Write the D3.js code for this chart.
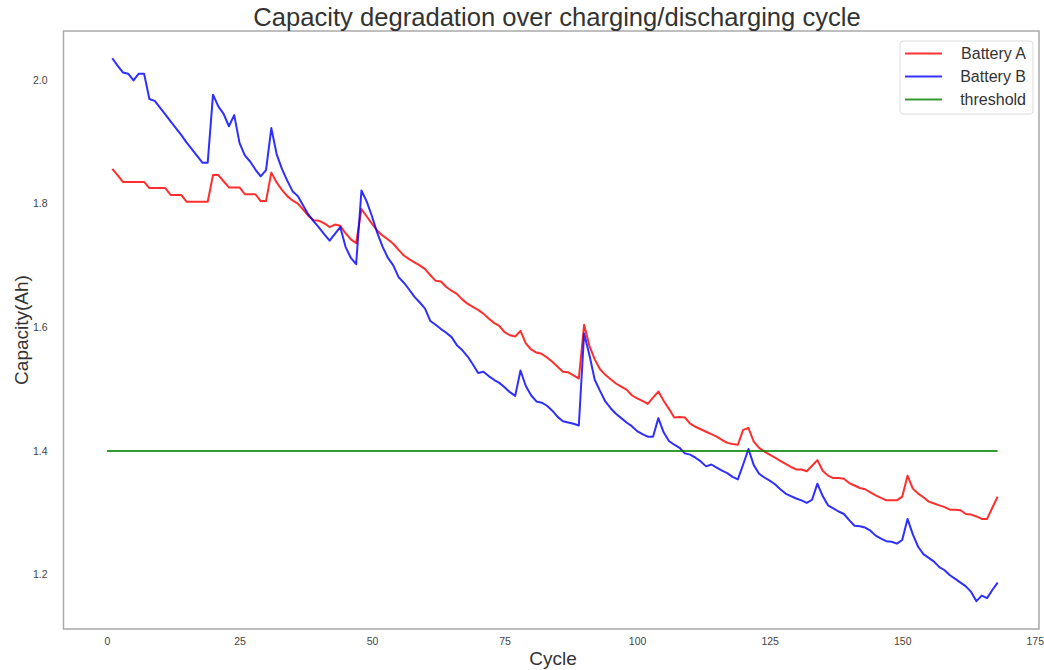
<!DOCTYPE html>
<html>
<head>
<meta charset="utf-8">
<script src="https://cdn.jsdelivr.net/npm/d3@7"></script>
<style>
  html, body { margin: 0; padding: 0; background: #fff; }
  svg { display: block; font-family: "Liberation Sans", Arial, sans-serif; }
</style>
</head>
<body>
<svg id="chart" width="1044" height="670"></svg>
<script>
// ---- data ----
const cycles = d3.range(1, 169);
const batteryA = [
  1.856, 1.846, 1.835, 1.835, 1.835, 1.835, 1.835, 1.825, 1.825, 1.825,
  1.825, 1.814, 1.814, 1.814, 1.803, 1.803, 1.803, 1.803, 1.803, 1.846,
  1.846, 1.836, 1.826, 1.826, 1.826, 1.815, 1.815, 1.815, 1.804, 1.804,
  1.850, 1.834, 1.822, 1.812, 1.805, 1.800, 1.790, 1.780, 1.773, 1.772,
  1.768, 1.762, 1.766, 1.764, 1.752, 1.742, 1.736, 1.791, 1.779, 1.767,
  1.756, 1.748, 1.742, 1.735, 1.725, 1.716, 1.710, 1.705, 1.700, 1.694,
  1.684, 1.675, 1.674, 1.665, 1.659, 1.654, 1.645, 1.638, 1.633, 1.628,
  1.622, 1.614, 1.607, 1.602, 1.592, 1.587, 1.585, 1.594, 1.574, 1.564,
  1.559, 1.557, 1.551, 1.544, 1.536, 1.528, 1.527, 1.522, 1.517, 1.604,
  1.570, 1.548, 1.532, 1.523, 1.516, 1.509, 1.504, 1.499, 1.490, 1.485,
  1.481, 1.476, 1.486, 1.496, 1.481, 1.468, 1.454, 1.455, 1.454, 1.444,
  1.439, 1.435, 1.431, 1.427, 1.423, 1.418, 1.413, 1.411, 1.410, 1.434,
  1.437, 1.415, 1.405, 1.399, 1.394, 1.389, 1.384, 1.379, 1.374, 1.370,
  1.370, 1.367, 1.376, 1.385, 1.368, 1.360, 1.356, 1.356, 1.355, 1.348,
  1.344, 1.340, 1.338, 1.333, 1.328, 1.324, 1.320, 1.320, 1.320, 1.326,
  1.360, 1.339, 1.331, 1.325, 1.318, 1.315, 1.312, 1.309, 1.305, 1.305,
  1.304, 1.298, 1.297, 1.294, 1.290, 1.290, 1.308, 1.326
];
const batteryB = [
  2.035, 2.023, 2.012, 2.010, 1.999, 2.010, 2.010, 1.969, 1.966, 1.955,
  1.944, 1.933, 1.922, 1.911, 1.899, 1.888, 1.877, 1.866, 1.866, 1.976,
  1.957, 1.945, 1.925, 1.943, 1.898, 1.878, 1.868, 1.855, 1.844, 1.854,
  1.922, 1.880, 1.856, 1.837, 1.820, 1.812, 1.797, 1.782, 1.771, 1.761,
  1.750, 1.740, 1.751, 1.762, 1.730, 1.712, 1.702, 1.821, 1.803, 1.779,
  1.752, 1.730, 1.712, 1.700, 1.681, 1.672, 1.661, 1.649, 1.640, 1.630,
  1.610, 1.604, 1.597, 1.591, 1.584, 1.571, 1.563, 1.553, 1.540, 1.526,
  1.528, 1.521, 1.515, 1.510, 1.503, 1.495, 1.489, 1.530, 1.505, 1.490,
  1.480, 1.478, 1.473, 1.465, 1.455, 1.448, 1.446, 1.444, 1.441, 1.590,
  1.555, 1.515, 1.497, 1.480, 1.469, 1.460, 1.453, 1.446, 1.440, 1.432,
  1.427, 1.423, 1.423, 1.453, 1.430, 1.416, 1.410, 1.405, 1.396, 1.394,
  1.389, 1.383, 1.375, 1.378, 1.373, 1.368, 1.364, 1.358, 1.354, 1.378,
  1.403, 1.377, 1.363, 1.357, 1.352, 1.346, 1.338, 1.331, 1.327, 1.323,
  1.320, 1.316, 1.321, 1.347, 1.327, 1.312, 1.307, 1.302, 1.298, 1.288,
  1.279, 1.278, 1.276, 1.271, 1.263, 1.258, 1.254, 1.253, 1.250, 1.256,
  1.290, 1.265, 1.245, 1.233, 1.227, 1.221, 1.212, 1.207, 1.199, 1.193,
  1.187, 1.181, 1.172, 1.157, 1.166, 1.162, 1.175, 1.187
];
const thresholdValue = 1.4;
const thresholdCycles = [0, 168];
const xTicks = [0, 25, 50, 75, 100, 125, 150, 175];
const yTicks = [1.2, 1.4, 1.6, 1.8, 2.0];
const seriesNames = ["Battery A", "Battery B", "threshold"];
const seriesColors = ["#ff0000", "#0000ff", "#008000"];

// ---- layout ----
const svg = d3.select("#chart");
const plot = { left: 63.5, right: 1039, top: 31, bottom: 629 };

const x = d3.scaleLinear().domain([-8.2, 175.8]).range([plot.left, plot.right]);
const y = d3.scaleLinear().domain([1.112, 2.079]).range([plot.bottom, plot.top]);

// frame
svg.append("rect")
  .attr("x", plot.left).attr("y", plot.top)
  .attr("width", plot.right - plot.left).attr("height", plot.bottom - plot.top)
  .attr("fill", "none").attr("stroke", "#a9a9a9").attr("stroke-width", 1.5);

// axes (no tick marks, labels only)
const xAxis = d3.axisBottom(x).tickValues(xTicks).tickSize(0).tickPadding(9)
  .tickFormat(d3.format("d"));
const gx = svg.append("g").attr("transform", `translate(0,${plot.bottom})`).call(xAxis);
gx.select(".domain").remove();
gx.selectAll("text").attr("font-size", 10.5).attr("fill", "#444")
  .attr("font-family", "Liberation Sans, Arial, sans-serif");

const yAxis = d3.axisLeft(y).tickValues(yTicks).tickSize(0).tickPadding(16)
  .tickFormat(d3.format(".1f"));
const gy = svg.append("g").attr("transform", `translate(${plot.left},0)`).call(yAxis);
gy.select(".domain").remove();
gy.selectAll("text").attr("font-size", 10.5).attr("fill", "#444")
  .attr("font-family", "Liberation Sans, Arial, sans-serif");

// lines
const line = d3.line().x(d => x(d[0])).y(d => y(d[1]));
const dataA = cycles.map((c, i) => [c, batteryA[i]]);
const dataB = cycles.map((c, i) => [c, batteryB[i]]);
const dataT = thresholdCycles.map(c => [c, thresholdValue]);

svg.append("path").datum(dataA).attr("d", line)
  .attr("fill", "none").attr("stroke", seriesColors[0]).attr("stroke-opacity", 0.82)
  .attr("stroke-width", 2).attr("stroke-linejoin", "round");
svg.append("path").datum(dataB).attr("d", line)
  .attr("fill", "none").attr("stroke", seriesColors[1]).attr("stroke-opacity", 0.82)
  .attr("stroke-width", 2).attr("stroke-linejoin", "round");
svg.append("path").datum(dataT).attr("d", line)
  .attr("fill", "none").attr("stroke", seriesColors[2]).attr("stroke-opacity", 0.8)
  .attr("stroke-width", 2);

// title and axis labels
svg.append("text").attr("x", 557).attr("y", 26)
  .attr("text-anchor", "middle").attr("font-size", 25.6).attr("fill", "#333")
  .text("Capacity degradation over charging/discharging cycle");
svg.append("text").attr("x", 553).attr("y", 665)
  .attr("text-anchor", "middle").attr("font-size", 19).attr("fill", "#333")
  .text("Cycle");
svg.append("text")
  .attr("transform", `translate(28,${(plot.top + plot.bottom) / 2}) rotate(-90)`)
  .attr("text-anchor", "middle").attr("font-size", 19).attr("fill", "#333")
  .text("Capacity(Ah)");

// legend
const lg = svg.append("g");
lg.append("rect").attr("x", 900).attr("y", 41).attr("width", 133).attr("height", 73)
  .attr("rx", 3).attr("fill", "#fff").attr("stroke", "#dcdcdc").attr("stroke-width", 1);
seriesNames.forEach((name, i) => {
  const yy = 53.5 + i * 23;
  lg.append("line").attr("x1", 905).attr("x2", 942).attr("y1", yy).attr("y2", yy)
    .attr("stroke", seriesColors[i]).attr("stroke-opacity", 0.8).attr("stroke-width", 2);
  lg.append("text").attr("x", 1026).attr("y", yy + 5.5).attr("text-anchor", "end")
    .attr("font-size", 16).attr("fill", "#333").text(name);
});
</script>
</body>
</html>
